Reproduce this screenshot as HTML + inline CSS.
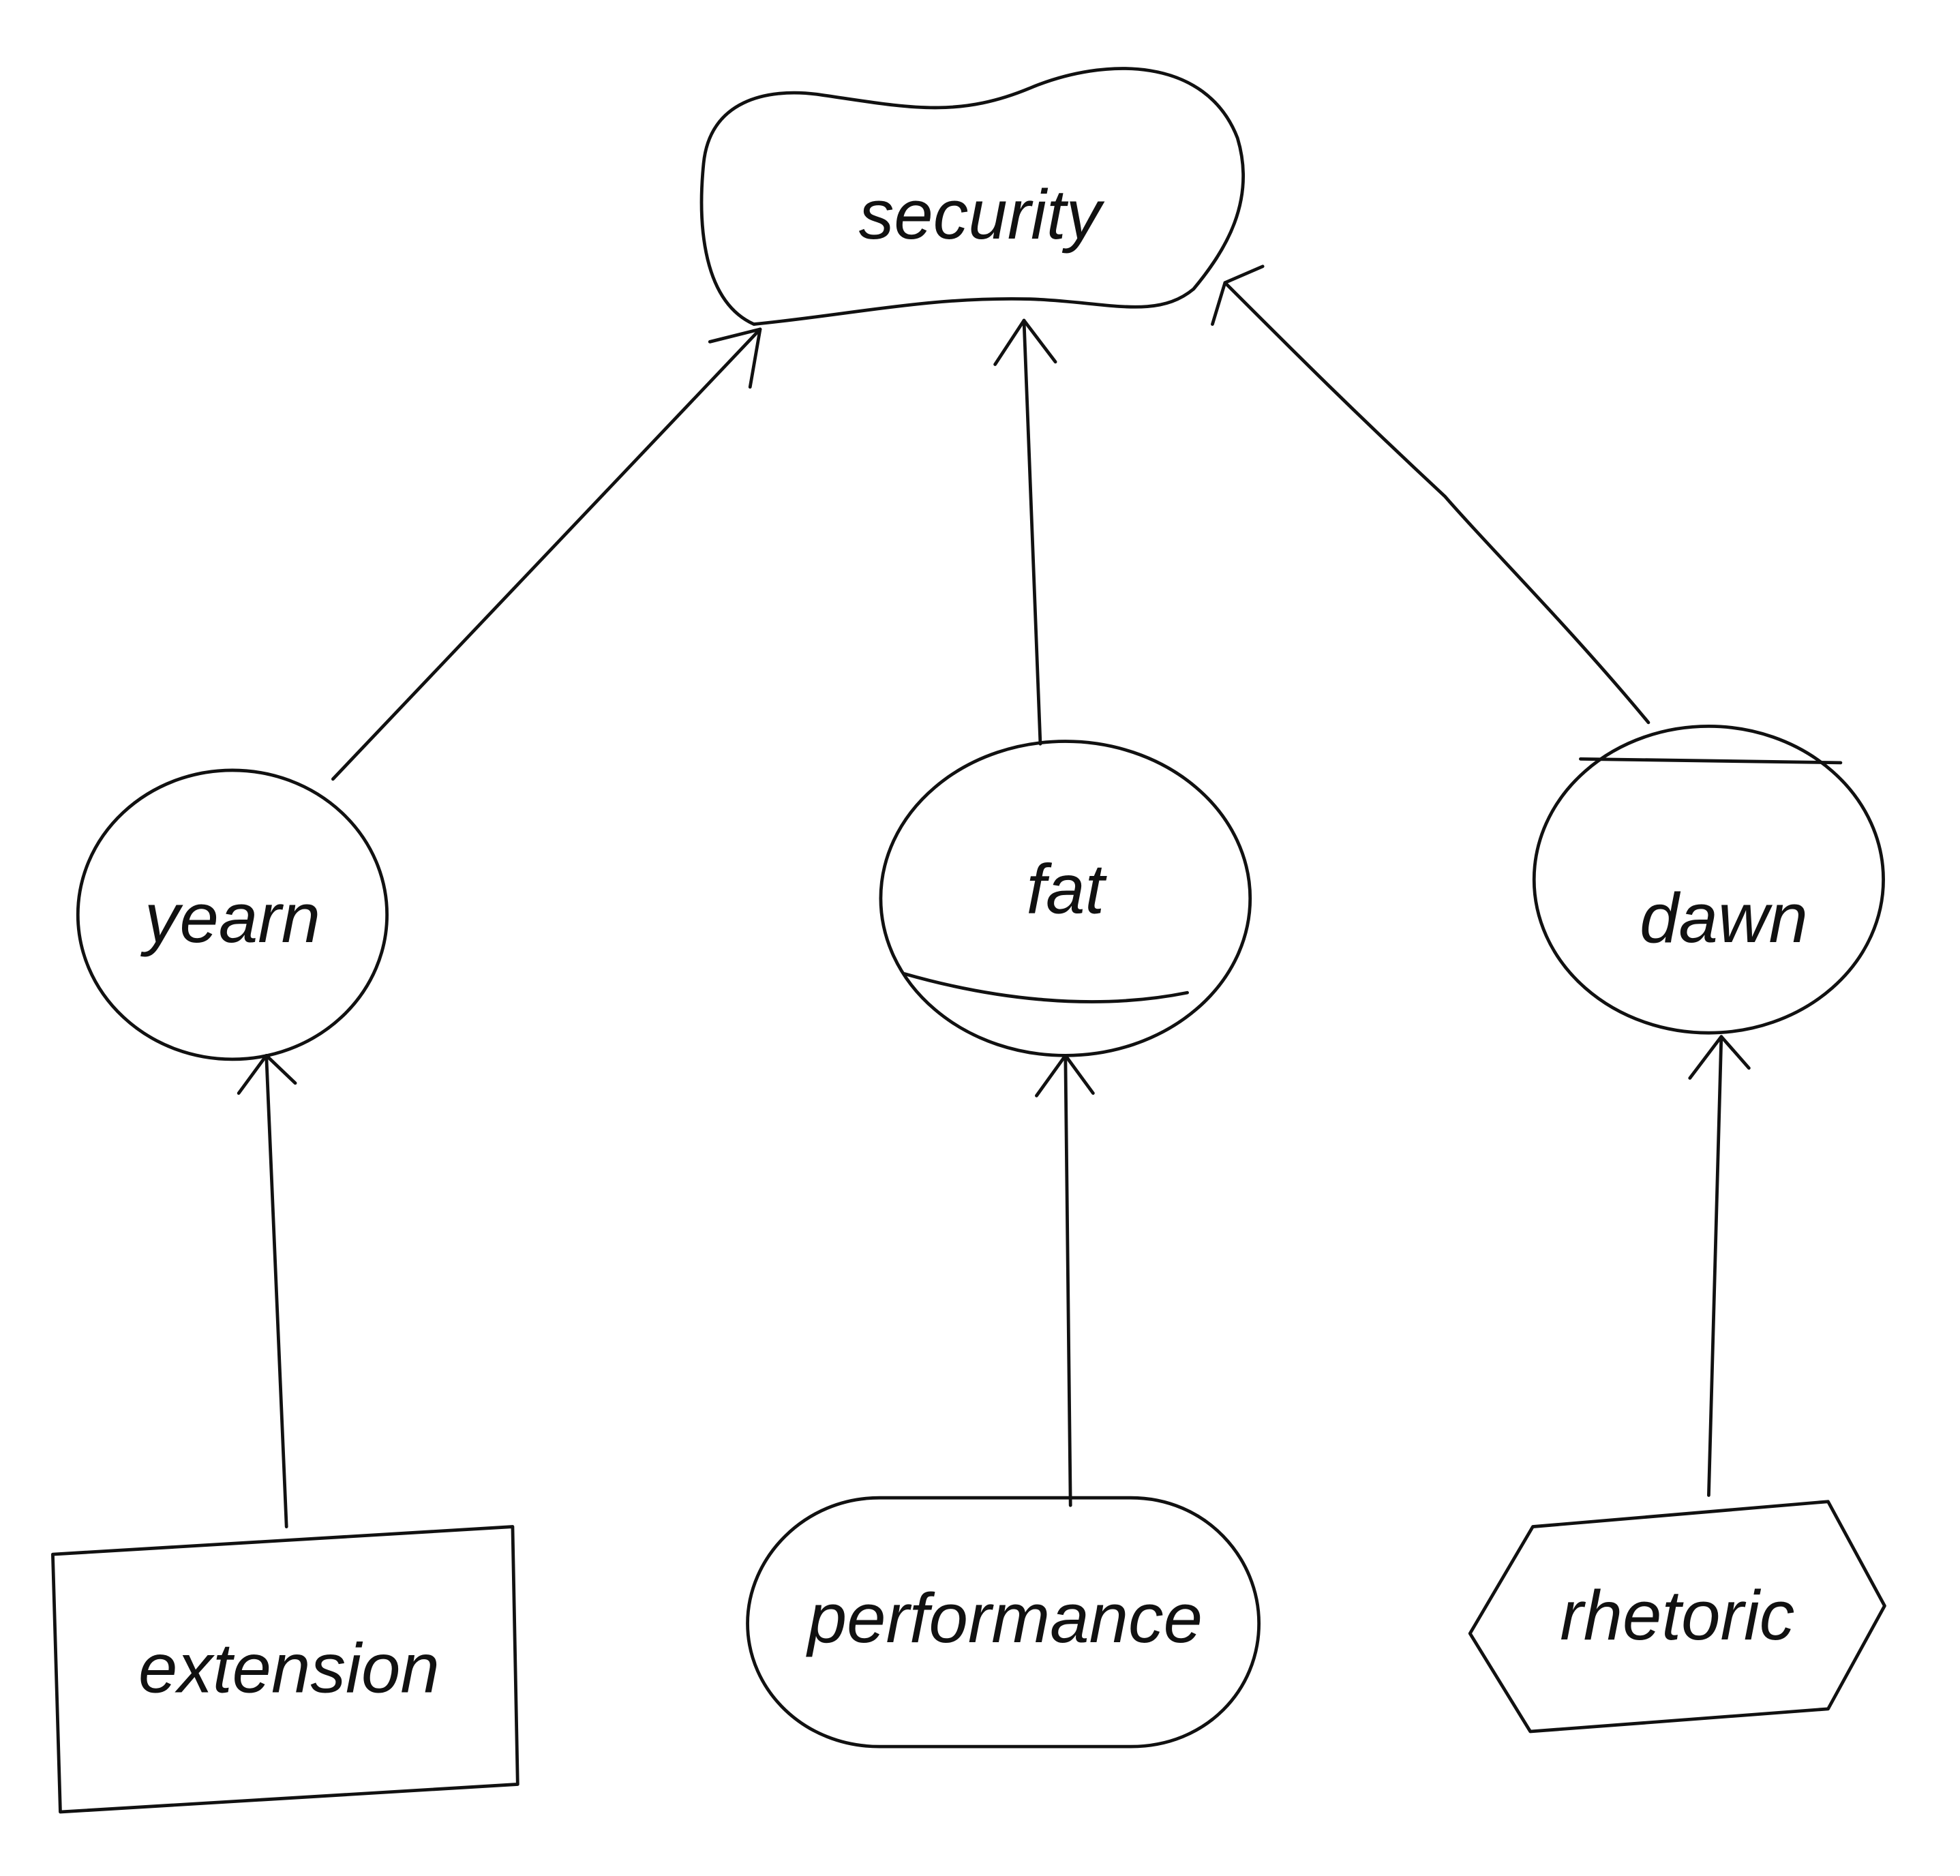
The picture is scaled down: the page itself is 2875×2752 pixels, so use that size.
<!DOCTYPE html>
<html><head><meta charset="utf-8"><style>
html,body{margin:0;padding:0;background:#fff;}
svg{display:block;}
text{font-family:"Liberation Sans",sans-serif;font-size:56px;fill:#111;text-anchor:middle;dominant-baseline:middle;}
</style></head><body>
<svg width="2875" height="2752" viewBox="0 0 1560 1493" preserveAspectRatio="none" xmlns="http://www.w3.org/2000/svg">
<g fill="none" stroke="#111" stroke-width="2.6" stroke-linecap="round" stroke-linejoin="round">
<path d="M600,258 C560,240 555,180 560,130 C565,80 610,70 650,75 C720,85 760,95 820,70 C880,45 960,45 985,110 C1000,160 975,200 950,230 C920,255 880,240 820,238 C740,236 680,250 600,258 Z"/>
<ellipse cx="185" cy="728" rx="123" ry="115"/>
<ellipse cx="848" cy="715" rx="147" ry="125"/>
<path d="M720,775 C790,795 870,805 945,790"/>
<ellipse cx="1360" cy="700" rx="139" ry="122"/>
<path d="M1258,604 L1465,607"/>
<path d="M42,1237 L408,1215 L412,1420 L48,1442 Z"/>
<path d="M700,1192 L900,1192 C960,1192 1002,1240 1002,1292 C1002,1345 960,1390 900,1390 L700,1390 C640,1390 595,1345 595,1292 C595,1240 640,1192 700,1192 Z"/>
<path d="M1220,1215 L1455,1195 L1500,1278 L1455,1360 L1218,1378 L1170,1300 Z"/>
<path d="M265,620 L605,262"/><path d="M565,272 L605,262 L597,308"/>
<path d="M828,592 L815,255"/><path d="M792,290 L815,255 L840,288"/>
<path d="M1312,575 C1250,500 1180,430 1150,395 C1080,330 1030,280 975,225"/><path d="M965,258 L975,225 L1005,212"/>
<path d="M228,1215 L212,840"/><path d="M190,870 L212,840 L235,862"/>
<path d="M852,1198 L848,840"/><path d="M825,872 L848,840 L870,870"/>
<path d="M1360,1190 L1370,825"/><path d="M1345,858 L1370,825 L1392,850"/>
</g>
<text x="780" y="175" style="font-style:italic">security</text>
<text x="185" y="735" style="font-style:italic">yearn</text>
<text x="848" y="712" style="font-style:italic">fat</text>
<text x="1372" y="735" style="font-style:italic">dawn</text>
<text x="230" y="1332" style="font-style:italic">extension</text>
<text x="800" y="1292" style="font-style:italic">performance</text>
<text x="1335" y="1290" style="font-style:italic">rhetoric</text>
</svg>
</body></html>
